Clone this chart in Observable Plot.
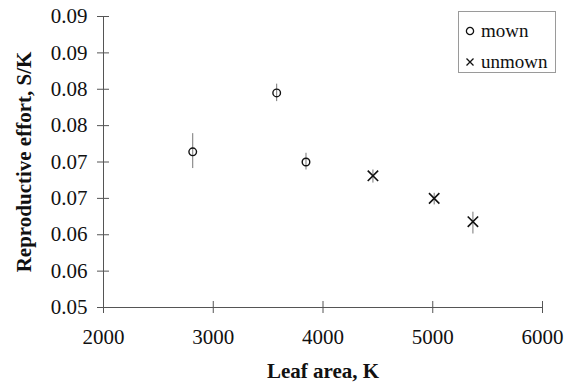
<!DOCTYPE html>
<html>
<head>
<meta charset="utf-8">
<script src="https://cdn.jsdelivr.net/npm/d3@7"></script>
<script src="https://cdn.jsdelivr.net/npm/@observablehq/plot@0.6"></script>
<style>
  html, body { margin: 0; padding: 0; background: #fff; }
  #wrap { position: relative; width: 575px; height: 392px; font-family: "Liberation Serif", "Times New Roman", Times, "Nimbus Roman", "DejaVu Serif", serif; }
  #wrap svg text { font-family: "Liberation Serif", "Times New Roman", Times, "Nimbus Roman", "DejaVu Serif", serif !important; }
  #legend { position: absolute; left: 458px; top: 11px; width: 98px; height: 62px; border: 1px solid #9a9a9a; box-sizing: border-box; background: #fff; }
  .row { position: absolute; left: 6px; display: flex; align-items: center; font-size: 19px; color: #111; }
  .row svg { margin-right: 6px; }
</style>
</head>
<body>
<div id="wrap"></div>
<script>
// Data
const groups = ["mown", "unmown"];
const mownLeafArea = [2813, 3578, 3845];
const mownEffort   = [0.0714, 0.0795, 0.0700];
const mownLow      = [0.0691, 0.0783, 0.0689];
const mownHigh     = [0.0739, 0.0807, 0.0712];
const unmownLeafArea = [4455, 5013, 5366];
const unmownEffort   = [0.0681, 0.0650, 0.0618];
const unmownLow      = [0.0671, 0.0641, 0.0601];
const unmownHigh     = [0.0689, 0.0657, 0.0631];

const xTicks = [2000, 3000, 4000, 5000, 6000];
const yTicks = [0.050, 0.055, 0.060, 0.065, 0.070, 0.075, 0.080, 0.085, 0.090];
const yTickLabels = ["0.05", "0.06", "0.06", "0.07", "0.07", "0.08", "0.08", "0.09", "0.09"];
const xTitle = "Leaf area, K";
const yTitle = "Reproductive effort, S/K";

const rows = [];
mownLeafArea.forEach((x, i) => rows.push({group: groups[0], x, y: mownEffort[i], lo: mownLow[i], hi: mownHigh[i]}));
unmownLeafArea.forEach((x, i) => rows.push({group: groups[1], x, y: unmownEffort[i], lo: unmownLow[i], hi: unmownHigh[i]}));

const labelOf = new Map(yTicks.map((t, i) => [t, yTickLabels[i]]));
const axisColor = "#555";
const serif = "'Liberation Serif', 'Times New Roman', Times, 'Nimbus Roman', 'DejaVu Serif', serif";

const chart = Plot.plot({
  width: 575,
  height: 392,
  marginLeft: 103,
  marginRight: 33,
  marginTop: 16,
  marginBottom: 85,
  style: {fontFamily: serif, fontSize: "21px", color: "#111", background: "#fff"},
  x: {domain: [2000, 6000]},
  y: {domain: [0.05, 0.09]},
  marks: [
    // crossing tick marks
    Plot.axisX({ticks: xTicks, tickSize: 12, dy: -6, tickFormat: () => "", label: null, stroke: axisColor}),
    Plot.axisY({ticks: yTicks, tickSize: 12, dx: 6, tickFormat: () => "", label: null, stroke: axisColor}),
    // tick labels
    Plot.axisX({ticks: xTicks, tickSize: 0, tickPadding: 22, tickFormat: d => String(d), label: null, fontSize: 21, fontFamily: serif, fontWeight: "normal", fill: "#111"}),
    Plot.axisY({ticks: yTicks, tickSize: 0, tickPadding: 16, tickFormat: d => labelOf.get(d), label: null, fontSize: 21, fontFamily: serif, fontWeight: "normal", fill: "#111"}),
    // axis lines
    Plot.ruleX([2000], {stroke: axisColor, strokeWidth: 1}),
    Plot.ruleY([0.05], {stroke: axisColor, strokeWidth: 1}),
    // error bars
    Plot.ruleX(rows, {x: "x", y1: "lo", y2: "hi", stroke: "#777", strokeWidth: 1}),
    // points
    Plot.dot(rows.filter(d => d.group === "mown"), {x: "x", y: "y", r: 3.8, symbol: "circle", stroke: "#111", strokeWidth: 1.4, fill: "none"}),
    Plot.dot(rows.filter(d => d.group === "unmown"), {x: "x", y: "y", r: 4.8, symbol: "times", stroke: "#111", strokeWidth: 1.6}),
    // axis titles
    Plot.text([xTitle], {text: d => d, frameAnchor: "bottom", textAnchor: "middle", lineAnchor: "middle", dy: 64, fontWeight: "bold", fontSize: 21, fontFamily: serif, fill: "#111"}),
    Plot.text([yTitle], {text: d => d, frameAnchor: "left", textAnchor: "middle", lineAnchor: "middle", dx: -79, rotate: -90, fontWeight: "bold", fontSize: 21, fontFamily: serif, fill: "#111"})
  ]
});

const wrap = document.getElementById("wrap");
wrap.appendChild(chart);

// Legend
const legend = document.createElement("div");
legend.id = "legend";
const symbols = {
  mown: '<svg width="10" height="10" viewBox="-5 -5 10 10"><circle r="3.6" fill="none" stroke="#111" stroke-width="1.3"/></svg>',
  unmown: '<svg width="10" height="10" viewBox="-5 -5 10 10"><path d="M-3.5,-3.5L3.5,3.5M-3.5,3.5L3.5,-3.5" stroke="#111" stroke-width="1.3"/></svg>'
};
groups.forEach((g, i) => {
  const row = document.createElement("div");
  row.className = "row";
  row.style.top = (i === 0 ? 8 : 39) + "px";
  row.innerHTML = symbols[g] + "<span>" + g + "</span>";
  legend.appendChild(row);
});
wrap.appendChild(legend);
</script>
</body>
</html>
